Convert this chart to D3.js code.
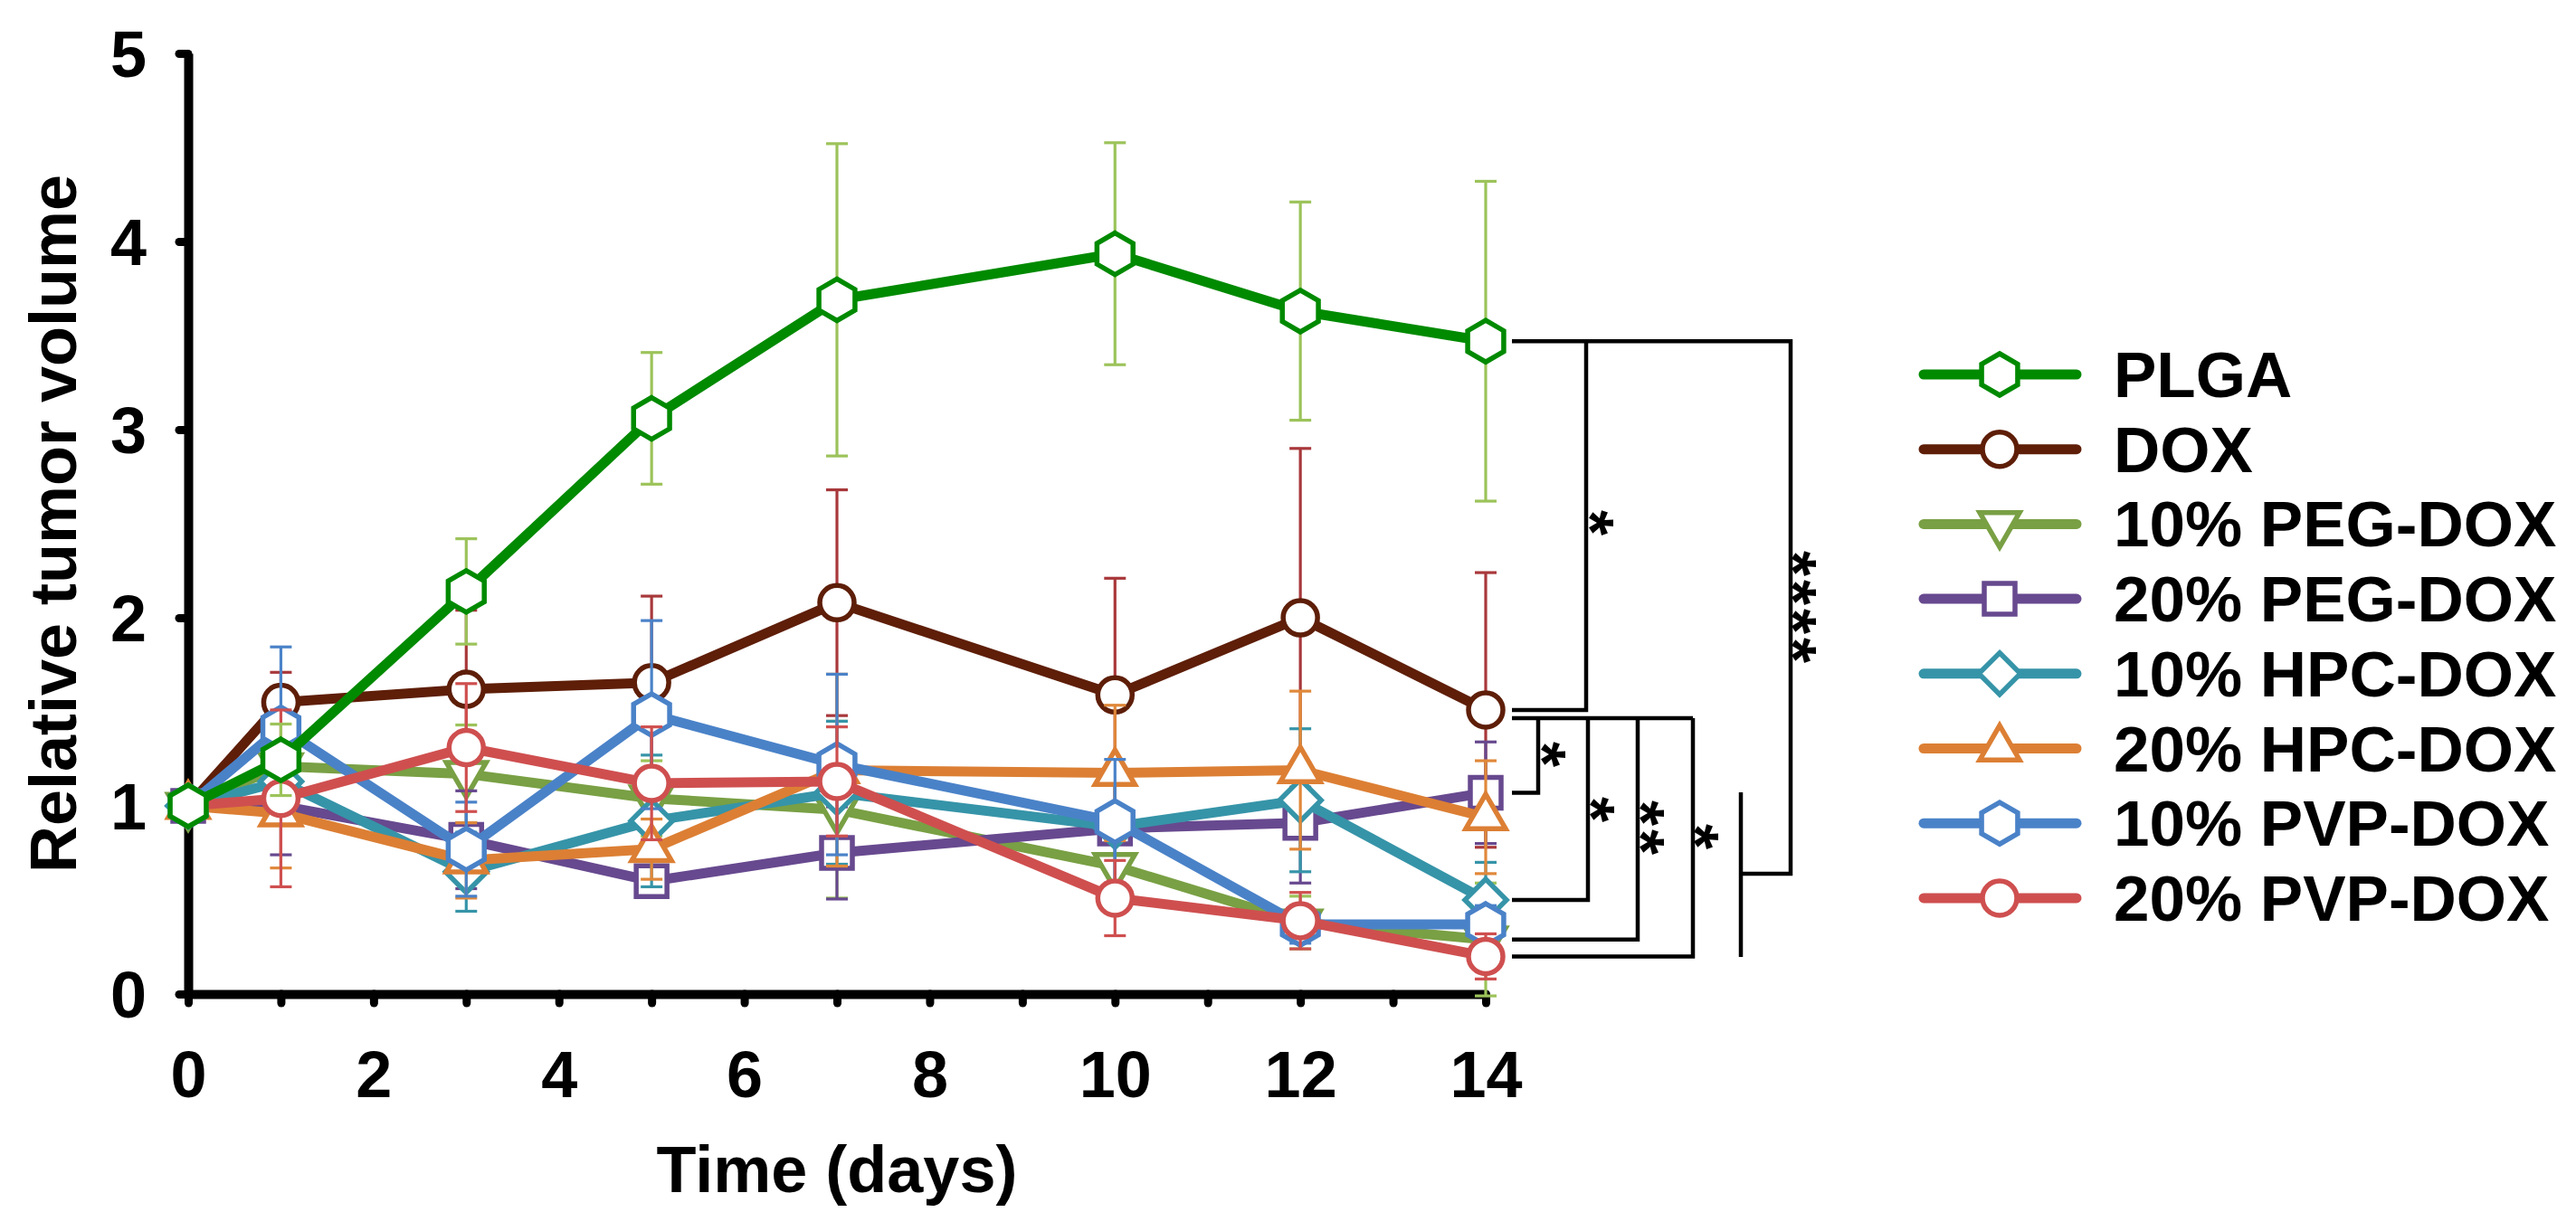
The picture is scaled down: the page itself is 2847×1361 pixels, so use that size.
<!DOCTYPE html>
<html>
<head>
<meta charset="utf-8">
<script src="https://d3js.org/d3.v7.min.js"></script>
<style>
body{margin:0;background:#fff;}
svg{display:block;font-family:"Liberation Sans",Arial,sans-serif;}
</style>
</head>
<body>
<div id="chart"></div>
<script>
// days measured
const days = [0, 1, 3, 5, 7, 10, 12, 14];
const xTickLabels = [0, 2, 4, 6, 8, 10, 12, 14];
const yTickLabels = [0, 1, 2, 3, 4, 5];

const seriesNames = ['PLGA', 'DOX', '10% PEG-DOX', '20% PEG-DOX',
  '10% HPC-DOX', '20% HPC-DOX', '10% PVP-DOX', '20% PVP-DOX'];

// mean relative volume
const plga   = [1.00, 1.245, 2.14, 3.06, 3.69, 3.935, 3.63, 3.47];
const dox    = [1.00, 1.55, 1.62, 1.655, 2.08, 1.59, 2.00, 1.51];
const peg10  = [1.00, 1.21, 1.17, 1.04, 0.98, 0.68, 0.38, 0.29];
const peg20  = [1.00, 1.00, 0.82, 0.60, 0.75, 0.88, 0.91, 1.07];
const hpc10  = [1.00, 1.13, 0.65, 0.92, 1.07, 0.89, 1.03, 0.50];
const hpc20  = [1.00, 0.96, 0.71, 0.77, 1.19, 1.175, 1.19, 0.94];
const pvp10  = [1.00, 1.415, 0.77, 1.485, 1.22, 0.917, 0.37, 0.37];
const pvp20  = [1.00, 1.04, 1.31, 1.12, 1.13, 0.51, 0.39, 0.20];

// error bar half-lengths
const plgaErr  = [0, 0.19, 0.28, 0.35, 0.83, 0.59, 0.58, 0.85];
const doxErr   = [0, 0.16, 0.42, 0.46, 0.60, 0.62, 0.90, 0.73];
const peg10Err = [0, 0.23, 0.26, 0.20, 0.47, 0.20, 0.14, 0.30];
const peg20Err = [0, 0.26, 0.26, 0.05, 0.245, 0.30, 0.32, 0.27];
const hpc10Err = [0, 0.20, 0.21, 0.35, 0.38, 0.30, 0.38, 0.20];
const hpc20Err = [0, 0.29, 0.20, 0.16, 0.51, 0.36, 0.42, 0.30];
const pvp10Err = [0, 0.43, 0.25, 0.50, 0.48, 0.33, 0.10, 0.10];
const pvp20Err = [0, 0.47, 0.34, 0.30, 0.29, 0.20, 0.15, 0.12];

const means = [plga, dox, peg10, peg20, hpc10, hpc20, pvp10, pvp20];
const errs  = [plgaErr, doxErr, peg10Err, peg20Err, hpc10Err, hpc20Err, pvp10Err, pvp20Err];

// significance labels next to the brackets
const sigLabels = ['*', '*', '*', '**', '*', '****'];

const lineColors = ['#008a00', '#5e1e08', '#79a044', '#67498f', '#3694a8', '#dc7f34', '#4a82c8', '#cf4f4f'];
const errColors  = ['#9cc35a', '#a8383b', '#9cc35a', '#67498f', '#3694a8', '#e0883a', '#4a82c8', '#cf4f4f'];
const shapes     = ['hexagon', 'circle', 'triDown', 'square', 'diamond', 'triUp', 'hexagon', 'circle'];

const width = 2847, height = 1361;

const x = d3.scaleLinear().domain([0, 14]).range([208, 1642]);
const y = d3.scaleLinear().domain([0, 5]).range([1099, 59]);

function markerPath(shape){
  const p = d3.path();
  if(shape === 'hexagon'){
    const r = 23;
    d3.range(6).forEach(i=>{
      const a = (-90 + i*60) * Math.PI/180;
      i ? p.lineTo(r*Math.cos(a), r*Math.sin(a)) : p.moveTo(r*Math.cos(a), r*Math.sin(a));
    });
    p.closePath();
  } else if(shape === 'circle'){
    p.arc(0, 0, 19, 0, 2*Math.PI);
  } else if(shape === 'square'){
    p.rect(-17, -17, 34, 34);
  } else if(shape === 'diamond'){
    p.moveTo(0,-23); p.lineTo(23,0); p.lineTo(0,23); p.lineTo(-23,0); p.closePath();
  } else {
    const s = 44, h = s*Math.sqrt(3)/2, k = shape === 'triUp' ? 1 : -1;
    p.moveTo(0, -k*h*2/3); p.lineTo(s/2, k*h/3); p.lineTo(-s/2, k*h/3); p.closePath();
  }
  return p.toString();
}

const series = seriesNames.map((name,i)=>({
  name, shape: shapes[i], color: lineColors[i], errColor: errColors[i],
  values: days.map((d,j)=>({day:d, v:means[i][j], e:errs[i][j]}))
}));

const svg = d3.select('#chart').append('svg')
  .attr('width', width).attr('height', height);

// axes
const xAxis = d3.axisBottom(x)
  .tickValues(d3.range(0, 15))
  .tickSize(10).tickSizeOuter(0).tickPadding(53)
  .tickFormat(d => xTickLabels.includes(d) ? d : '');
const yAxis = d3.axisLeft(y)
  .tickValues(yTickLabels)
  .tickFormat(d3.format('d'))
  .tickSize(10).tickSizeOuter(0).tickPadding(36);

const gx = svg.append('g').attr('transform', `translate(0,${y(0)})`).call(xAxis);
const gy = svg.append('g').attr('transform', `translate(${x(0)},0)`).call(yAxis);
[gx, gy].forEach(g=>{
  g.select('.domain').attr('stroke', '#000').attr('stroke-width', 10);
  g.selectAll('.tick line').attr('stroke', '#000').attr('stroke-width', 9).attr('stroke-linecap', 'round');
  g.selectAll('.tick text').attr('fill', '#000').attr('font-size', 72).attr('font-weight', 'bold')
    .attr('font-family', '"Liberation Sans",Arial,sans-serif');
});
gy.selectAll('.tick text').attr('dy', '0.36em');

svg.append('text')
  .attr('x', (x(0)+x(14))/2).attr('y', 1318)
  .attr('text-anchor', 'middle').attr('font-size', 72).attr('font-weight', 'bold')
  .text('Time (days)');
svg.append('text')
  .attr('transform', `translate(84,${(y(0)+y(5))/2}) rotate(-90)`)
  .attr('text-anchor', 'middle').attr('font-size', 72).attr('font-weight', 'bold')
  .text('Relative tumor volume');

// draw order: DOX ... 20% PVP, PLGA on top
const order = [1, 2, 3, 4, 5, 6, 7, 0];
const line = d3.line().x(d=>x(d.day)).y(d=>y(d.v));

order.forEach(i=>{
  const s = series[i];
  const g = svg.append('g');
  const eb = g.selectAll('g.err').data(s.values.filter(d=>d.e > 0)).join('g')
    .attr('stroke', s.errColor).attr('stroke-width', 3.2);
  eb.append('line').attr('x1', d=>x(d.day)).attr('x2', d=>x(d.day))
    .attr('y1', d=>y(d.v + d.e)).attr('y2', d=>y(d.v - d.e));
  eb.append('line').attr('x1', d=>x(d.day)-12).attr('x2', d=>x(d.day)+12)
    .attr('y1', d=>y(d.v + d.e)).attr('y2', d=>y(d.v + d.e));
  eb.append('line').attr('x1', d=>x(d.day)-12).attr('x2', d=>x(d.day)+12)
    .attr('y1', d=>y(d.v - d.e)).attr('y2', d=>y(d.v - d.e));

  g.append('path').datum(s.values).attr('d', line)
    .attr('fill', 'none').attr('stroke', s.color).attr('stroke-width', 11)
    .attr('stroke-linejoin', 'round');

  g.selectAll('path.m').data(s.values).join('path').attr('class', 'm')
    .attr('transform', d=>`translate(${x(d.day)},${y(d.v)})`)
    .attr('d', markerPath(s.shape))
    .attr('fill', '#fff').attr('stroke', s.color).attr('stroke-width', 5.5);
});

// significance brackets (levels follow the day-14 means)
const last = means.map(m=>m[m.length-1]);
const bx0 = 1671;
const br = svg.append('g').attr('fill', 'none').attr('stroke', '#000').attr('stroke-width', 4.5);
const yP = y(last[0]), yD = y(last[1]);
br.append('path').attr('d', `M${bx0},${yP}H1979V966H1924`);
br.append('path').attr('d', 'M1924,876V1058');
br.append('path').attr('d', `M1753,${yP}V${yD}H${bx0}`);
const yTop = yD + 9;
br.append('path').attr('d', `M${bx0},${yTop}H1871`);
[[1700, 3], [1755, 4], [1810, 2], [1871, 7]].forEach(([bx, i])=>{
  br.append('path').attr('d', `M${bx},${yTop}V${y(last[i])}H${bx0}`);
});

// label centres: PLGA-DOX, 20% PEG, 10% HPC, 10% PEG, 20% PVP, PLGA-group
const sigPos = [[1775, 580], [1722, 836], [1776, 897], [1831, 917], [1891, 927], [1999, 673]];
svg.append('g').selectAll('text').data(sigLabels).join('text')
  .attr('transform', (d,i)=>`translate(${sigPos[i][0] - 42},${sigPos[i][1]}) rotate(90)`)
  .attr('text-anchor', 'middle').attr('font-size', 72).attr('font-weight', 'bold')
  .attr('letter-spacing', 4)
  .text(d=>d);

// legend
const lg = svg.append('g').selectAll('g').data(series).join('g')
  .attr('transform', (d,i)=>`translate(2126,${414 + i*82.7})`);
lg.append('line').attr('x1', 0).attr('x2', 169)
  .attr('stroke', d=>d.color).attr('stroke-width', 11).attr('stroke-linecap', 'round');
lg.append('path').attr('transform', 'translate(84,0)')
  .attr('d', d=>markerPath(d.shape))
  .attr('fill', '#fff').attr('stroke', d=>d.color).attr('stroke-width', 5.5);
lg.append('text').attr('x', 210).attr('y', 25)
  .attr('font-size', 71).attr('font-weight', 'bold')
  .text(d=>d.name);
</script>
</body>
</html>
